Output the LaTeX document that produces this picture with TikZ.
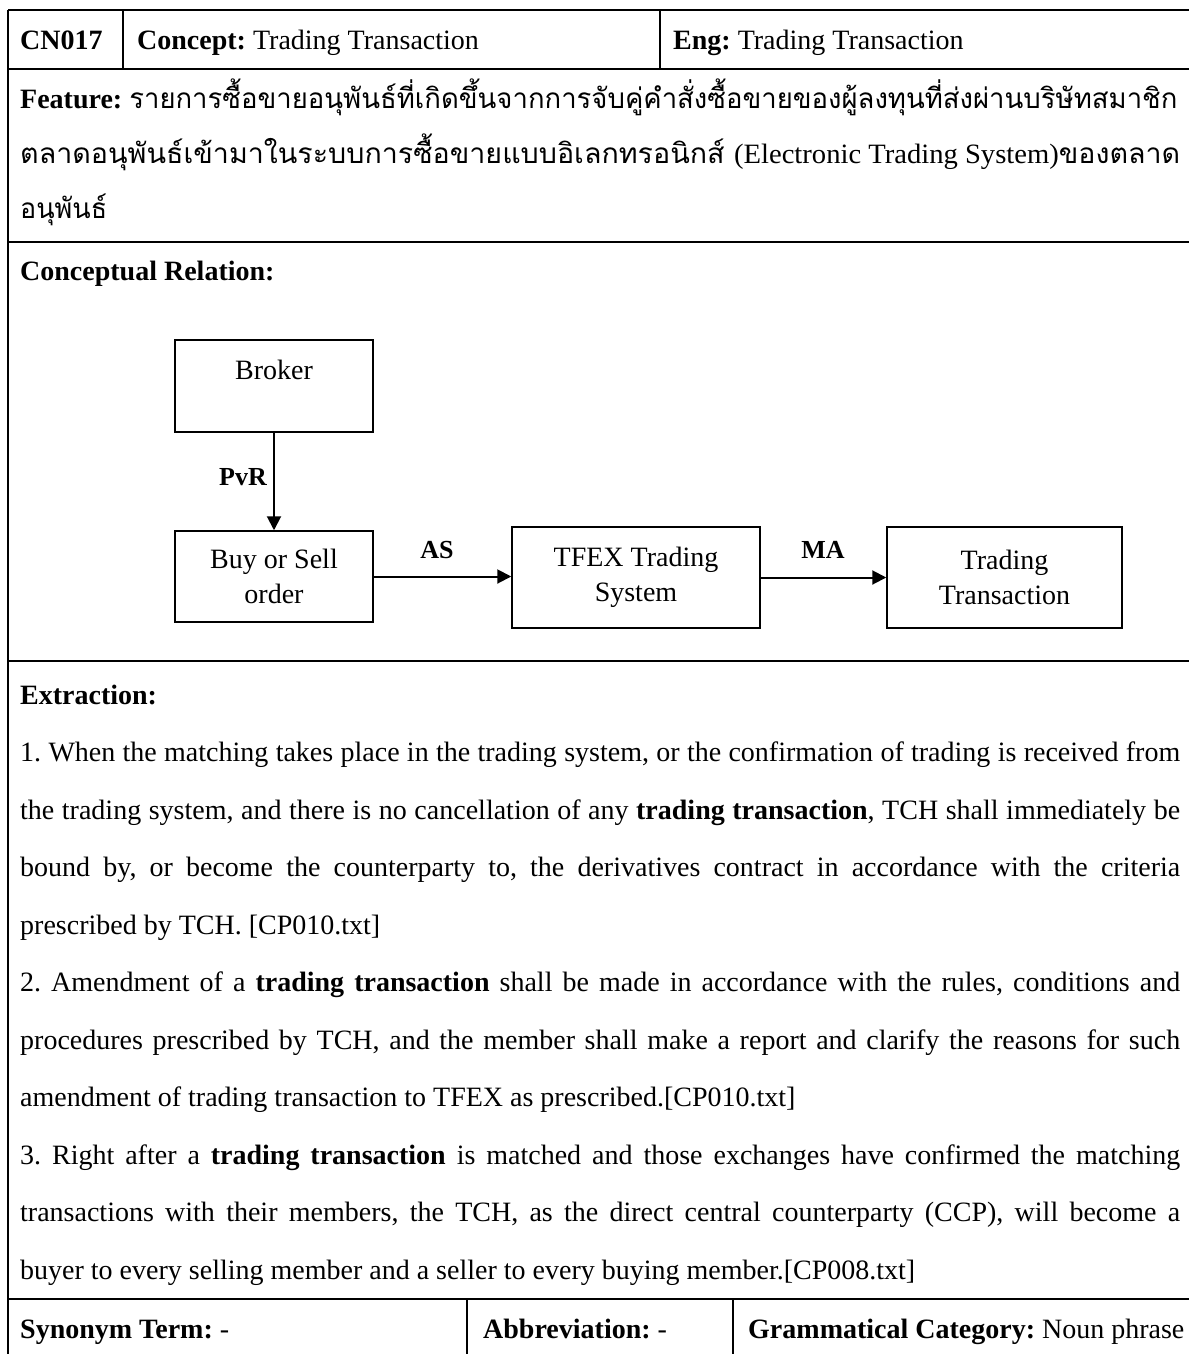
\documentclass[tikz,border=0pt]{standalone}
\usepackage{fontspec}
\usepackage{graphicx}
\setmainfont{Liberation Serif}
\newfontfamily\thai[Script=Thai]{Loma}
\usetikzlibrary{arrows.meta}
\frenchspacing

\begin{document}
\begin{tikzpicture}[x=1pt,y=-1pt,
  rule/.style={line width=2.5pt},
  txt/.style={anchor=base west, inner sep=0pt, font=\fontsize{28}{34}\selectfont},
  box/.style={draw, line width=1.5pt, rectangle, inner sep=0pt, align=center,
              font=\fontsize{28}{35}\selectfont},
  rel/.style={inner sep=0pt, font=\bfseries\fontsize{26}{30}\selectfont},
  flow/.style={line width=2pt, -{Triangle[length=14pt,width=14pt]}}
]
\useasboundingbox (0,0) rectangle (1189,1354);
\fill[white] (0,0) rectangle (1189,1354);

% ---- table rules ----
\draw[rule] (8,10) -- (1189,10);
\draw[rule] (8,10) -- (8,1354);
\draw[rule] (8,69) -- (1189,69);
\draw[rule] (8,242) -- (1189,242);
\draw[rule] (8,661) -- (1189,661);
\draw[rule] (8,1299) -- (1189,1299);
\draw[rule] (123,10) -- (123,69);
\draw[rule] (660,10) -- (660,69);
\draw[rule] (467,1299) -- (467,1354);
\draw[rule] (733,1299) -- (733,1354);

% ---- header row ----
\node[txt] (id) at (20,49) {\textbf{CN017}};
\node[txt] (concept) at (137,49) {\textbf{Concept:} Trading Transaction};
\node[txt] (eng) at (673,49) {\textbf{Eng:} Trading Transaction};

% ---- feature ----
\node[txt] (feat1) at (20,108) {\textbf{Feature:} \resizebox{1048pt}{\height}{\thai รายการซื้อขายอนุพันธ์ที่เกิดขึ้นจากการจับคู่คำสั่งซื้อขายของผู้ลงทุนที่ส่งผ่านบริษัทสมาชิก}};
\node[txt] (feat2) at (20,163) {\resizebox{1160pt}{\height}{\thai ตลาดอนุพันธ์เข้ามาในระบบการซื้อขายแบบอิเลกทรอนิกส์ {\rmfamily(Electronic Trading System)}ของตลาด}};
\node[txt] (feat3) at (20,218) {\resizebox{87pt}{\height}{\thai อนุพันธ์}};

% ---- conceptual relation ----
\node[txt] (crel) at (20,280) {\textbf{Conceptual Relation:}};

\node[box, minimum width=198pt, minimum height=92pt] (broker) at (274,386) {};
\node[inner sep=0pt, anchor=base, font=\fontsize{28}{35}\selectfont] (brokertxt) at (274,379) {Broker};
\node[box, minimum width=198pt, minimum height=91pt] (order) at (274,576.5) {Buy or Sell\\order};
\node[box, minimum width=248pt, minimum height=101pt] (tfex) at (636,577.5) {TFEX Trading\\System};
\node[box, minimum width=235pt, minimum height=101pt] (trans) at (1004.5,577.5) {Trading\\Transaction};

\draw[flow] (broker.south) -- (order.north);
\draw[flow] (order.east) -- (order.east -| tfex.west);
\draw[flow] (tfex.east) -- (tfex.east -| trans.west);

\node[rel] (pvr) at (243,477) {PvR};
\node[rel] (as) at (437,550) {AS};
\node[rel] (ma) at (823,550) {MA};

% ---- extraction ----
\node[txt] (ext) at (20,704) {\textbf{Extraction:}};
\node[txt] (e1a) at (20,761.5) {\makebox[1160pt][s]{1. When the matching takes place in the trading system, or the confirmation of trading is received from}};
\node[txt] (e1b) at (20,819) {\makebox[1160pt][s]{the trading system, and there is no cancellation of any \textbf{trading transaction}, TCH shall immediately be}};
\node[txt] (e1c) at (20,876.5) {\makebox[1160pt][s]{bound by, or become the counterparty to, the derivatives contract in accordance with the criteria}};
\node[txt] (e1d) at (20,934) {prescribed by TCH. [CP010.txt]};
\node[txt] (e2a) at (20,991.5) {\makebox[1160pt][s]{2. Amendment of a \textbf{trading transaction} shall be made in accordance with the rules, conditions and}};
\node[txt] (e2b) at (20,1049) {\makebox[1160pt][s]{procedures prescribed by TCH, and the member shall make a report and clarify the reasons for such}};
\node[txt] (e2c) at (20,1106.5) {amendment of trading transaction to TFEX as prescribed.[CP010.txt]};
\node[txt] (e3a) at (20,1164) {\makebox[1160pt][s]{3. Right after a \textbf{trading transaction} is matched and those exchanges have confirmed the matching}};
\node[txt] (e3b) at (20,1221.5) {\makebox[1160pt][s]{transactions with their members, the TCH, as the direct central counterparty (CCP), will become a}};
\node[txt] (e3c) at (20,1279) {buyer to every selling member and a seller to every buying member.[CP008.txt]};

% ---- bottom row ----
\node[txt] (syn) at (20,1338) {\textbf{Synonym Term:} -};
\node[txt] (abbr) at (483,1338) {\textbf{Abbreviation:} -};
\node[txt] (gram) at (748,1338) {\textbf{Grammatical Category:} Noun phrase};
\end{tikzpicture}
\end{document}
